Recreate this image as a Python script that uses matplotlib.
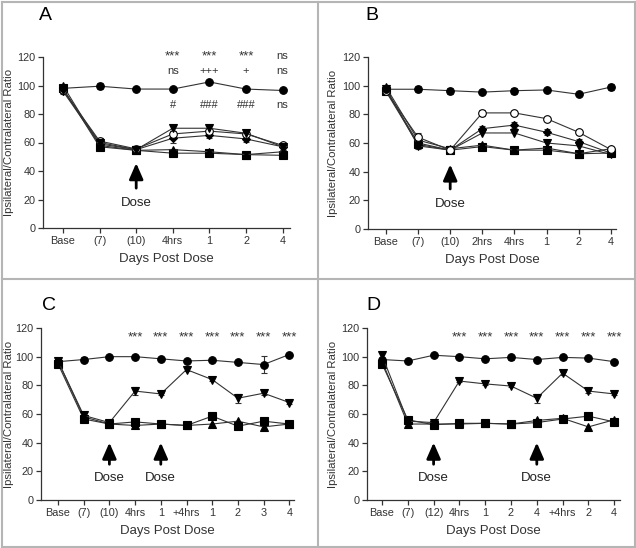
import numpy as np
import matplotlib.pyplot as plt
from matplotlib.lines import Line2D

plt.rcParams['font.family'] = ['Liberation Sans', 'DejaVu Sans']

# ── Data ──────────────────────────────────────────────────────────────────────
a_labels = ['Base', '(7)', '(10)', '4hrs', '1', '2', '4']
a_sham = [98, 99.5, 97.5, 97.5, 102.5, 97.5, 96.5]
a_tri_dn = [97, 60, 55, 70, 70, 66.5, 57]
a_open = [97, 61, 55.5, 66, 68, 66, 58]
a_diam = [96, 59, 55, 63, 65, 62.5, 57]
a_sq = [98, 57, 54.5, 52.5, 52.5, 51.5, 51]
a_tri_up = [100, 58, 54.5, 55, 53.5, 51.5, 53.5]
a_sham_err = [2, 2, 1, 1, 1, 1, 1]
a_tri_dn_err = [2, 3, 2, 2, 2, 2, 2]
a_diam_err = [2, 4, 2, 3, 2, 2, 2]
a_row1 = ['***', '***', '***', 'ns']
a_row2 = ['ns', '+++', '+', 'ns']
a_row3 = ['#', '###', '###', 'ns']

b_labels = ['Base', '(7)', '(10)', '2hrs', '4hrs', '1', '2', '4']
b_sham = [97.5, 97.5, 96.5, 95.5, 96.5, 97, 94, 99]
b_open = [96, 64, 55, 81, 81, 77, 67.5, 55.5]
b_diam = [97, 60, 55, 70, 72.5, 67.5, 61, 53]
b_tri_dn = [98, 58, 55, 67, 67, 60, 58, 52]
b_sq = [96, 59, 55, 57.5, 55, 55, 52.5, 53]
b_tri_up = [99, 62, 56, 58.5, 55, 56.5, 52.5, 56]
b_sham_err = [3, 2, 2, 1, 2, 1, 1, 2]
b_open_err = [2, 3, 2, 2, 1, 1, 1, 1]
b_diam_err = [2, 4, 2, 2, 2, 2, 2, 2]

c_labels = ['Base', '(7)', '(10)', '4hrs', '1', '+4hrs', '1', '2', '3', '4']
c_sham = [96.5, 98, 100, 100, 98.5, 97, 97.5, 96, 94.5, 101.5]
c_tri_dn = [97, 59, 54, 76, 74, 91, 84, 71, 74.5, 68]
c_sq = [95, 56.5, 53, 54.5, 53, 52, 58.5, 51.5, 55, 53]
c_tri_up = [97, 58, 53, 52, 53, 52, 53, 55, 51, 53]
c_sham_err = [2, 2, 1, 1, 1, 1, 1, 1, 6, 1]
c_tri_dn_err = [1, 2, 1, 3, 1, 1, 1, 3, 1, 1]

d_labels = ['Base', '(7)', '(12)', '4hrs', '1', '2', '4', '+4hrs', '2', '4']
d_sham = [98, 97, 101, 100, 98.5, 99.5, 98, 99.5, 99, 96.5]
d_tri_dn = [101, 55, 54, 83, 81, 79.5, 71, 88.5, 76, 74]
d_sq = [95, 56, 52.5, 53.5, 53.5, 53, 54, 56.5, 58.5, 54.5]
d_tri_up = [97, 53, 53, 53, 53.5, 53, 55.5, 57, 51, 56]
d_sham_err = [2, 1, 1, 1, 1, 2, 1, 1, 1, 1]
d_tri_dn_err = [2, 2, 1, 1, 1, 1, 3, 1, 1, 1]

W, H = 636, 548
fig = plt.figure(figsize=(W / 100, H / 100), dpi=100)


def make_ax(left, right, y0, y120, base, step, label_x):
    ax = fig.add_axes([left / W, 1 - y0 / H, (right - left) / W, (y0 - y120) / H])
    ax.set_ylim(0, 120)
    ax.set_xlim((left - base) / step, (right - base) / step)
    for s in ['top', 'right']:
        ax.spines[s].set_visible(False)
    for s in ['left', 'bottom']:
        ax.spines[s].set_color('#333333')
        ax.spines[s].set_linewidth(0.9)
    ax.set_yticks(range(0, 121, 20))
    ax.tick_params(labelsize=7.8, length=3.5, width=0.9, color='#333333',
                   labelcolor='#333333', pad=2)
    ax.set_ylabel('Ipsilateral/Contralateral Ratio', fontsize=8.2, color='#333333')
    ax.yaxis.set_label_coords((label_x - left) / (right - left), 0.5)
    ax.set_xlabel('Days Post Dose', fontsize=9.5, color='#333333', labelpad=5)
    return ax


def series(ax, y, marker, err=None, face='black', ms=5.5):
    x = np.arange(len(y))
    ax.errorbar(x, y, yerr=err, color='#333333', lw=0.8, marker=marker,
                ms=ms, mfc=face, mec='black', mew=0.8, ecolor='#333333',
                elinewidth=0.8, capsize=2, capthick=0.8, clip_on=False, zorder=3)


def dose(ax, xi, y_tail, y_head, y_text):
    ax.annotate('', xy=(xi, y_head), xytext=(xi, y_tail),
                arrowprops=dict(arrowstyle='-|>,head_width=0.35,head_length=0.8',
                                lw=2, color='black', mutation_scale=12))
    ax.text(xi, y_text, 'Dose', ha='center', va='center', fontsize=9.5, color='#222222')


# ── Panel A ───────────────────────────────────────────────────────────────────
ax = make_ax(43, 290, 228, 57, 63, 36.6, 14)
ax.set_xticks(range(len(a_labels)))
ax.set_xticklabels(a_labels)
series(ax, a_sq, 's')
series(ax, a_tri_up, '^')
series(ax, a_diam, 'D', a_diam_err, ms=4)
series(ax, a_open, 'o', face='white')
series(ax, a_tri_dn, 'v', a_tri_dn_err)
series(ax, a_sham, 'o', a_sham_err)
for i in range(4):
    fs1 = 9.5 if a_row1[i] == '***' else 8
    ax.text(3 + i, 120.5, a_row1[i], ha='center', va='center', fontsize=fs1,
            color='#333333', clip_on=False)
    ax.text(3 + i, 110.5, a_row2[i], ha='center', va='center', fontsize=8,
            color='#333333', clip_on=False)
    ax.text(3 + i, 86.5, a_row3[i], ha='center', va='center', fontsize=8,
            color='#333333')
dose(ax, 2, 26, 47.5, 17.5)
fig.text(45 / W, 1 - 15 / H, 'A', fontsize=14, ha='center', va='center')

# ── Panel B ───────────────────────────────────────────────────────────────────
ax = make_ax(368, 616, 229, 57, 386, 32.1, 338)
ax.set_xticks(range(len(b_labels)))
ax.set_xticklabels(b_labels)
series(ax, b_sq, 's')
series(ax, b_tri_up, '^')
series(ax, b_tri_dn, 'v')
series(ax, b_diam, 'D', b_diam_err, ms=4)
series(ax, b_open, 'o', b_open_err, face='white')
series(ax, b_sham, 'o', b_sham_err)
dose(ax, 2, 26, 47, 17.5)
fig.text(372 / W, 1 - 15 / H, 'B', fontsize=14, ha='center', va='center')

# ── Panel C ───────────────────────────────────────────────────────────────────
ax = make_ax(41, 294, 500, 328, 58, 25.7, 14)
ax.set_xticks(range(len(c_labels)))
ax.set_xticklabels(c_labels)
series(ax, c_tri_up, '^')
series(ax, c_sq, 's')
series(ax, c_tri_dn, 'v', c_tri_dn_err)
series(ax, c_sham, 'o', c_sham_err)
for i in range(3, len(c_labels)):
    ax.text(i, 113.5, '***', ha='center', va='center', fontsize=9.5,
            color='#333333', clip_on=False)
dose(ax, 2, 23, 42, 15.5)
dose(ax, 4, 23, 42, 15.5)
fig.text(49 / W, 1 - 306 / H, 'C', fontsize=14, ha='center', va='center')

# ── Panel D ───────────────────────────────────────────────────────────────────
ax = make_ax(367, 620, 500, 328, 382, 25.8, 338)
ax.set_xticks(range(len(d_labels)))
ax.set_xticklabels(d_labels)
series(ax, d_tri_up, '^')
series(ax, d_sq, 's')
series(ax, d_tri_dn, 'v', d_tri_dn_err)
series(ax, d_sham, 'o', d_sham_err)
for i in range(3, len(d_labels)):
    ax.text(i, 113.5, '***', ha='center', va='center', fontsize=9.5,
            color='#333333', clip_on=False)
dose(ax, 2, 23, 42, 15.5)
dose(ax, 6, 23, 42, 15.5)
fig.text(373 / W, 1 - 306 / H, 'D', fontsize=14, ha='center', va='center')

# ── Panel frames ──────────────────────────────────────────────────────────────
gray = '#b5b5b5'
for xp in [1.5, 317.5, 634.5]:
    fig.add_artist(Line2D([xp / W, xp / W], [1 - 1.5 / H, 1 - 546.5 / H], color=gray, lw=1.5))
for yp in [1.5, 278.5, 546.5]:
    fig.add_artist(Line2D([1.5 / W, 634.5 / W], [1 - yp / H, 1 - yp / H], color=gray, lw=1.5))

fig.savefig('out.png', dpi=100)
